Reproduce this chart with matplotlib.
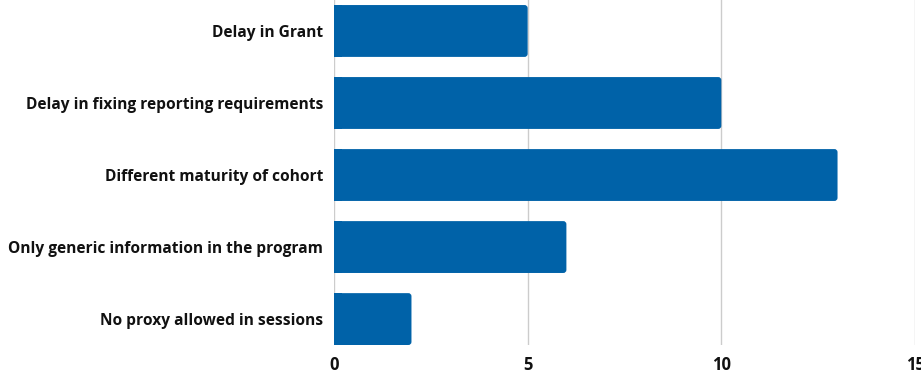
import matplotlib
matplotlib.use('Agg')
import matplotlib.pyplot as plt
from matplotlib.patches import FancyBboxPatch, Rectangle

# survey answers, top to bottom
issues = ['Delay in Grant',
          'Delay in fixing reporting requirements',
          'Different maturity of cohort',
          'Only generic information in the program',
          'No proxy allowed in sessions']
counts = [5, 10, 13, 6, 2]
xticks = [0, 5, 10, 15]

plt.rcParams['font.family'] = ['Open Sans', 'DejaVu Sans']

fig = plt.figure(figsize=(9.21, 3.74), dpi=100)
ax = fig.add_axes([334 / 921, 29 / 374, (915 - 334) / 921, 345 / 374])

pos = list(range(len(issues)))
h = 0.72
col = '#0062a8'
bars = ax.barh(pos, counts, height=h, color=col, zorder=3)
# round the right end of each bar, keep the left end square
for b in bars:
    x0, y0 = b.get_x(), b.get_y()
    w, hh = b.get_width(), b.get_height()
    b.set_visible(False)
    ax.add_patch(FancyBboxPatch((x0, y0), w, hh,
                                boxstyle='round,pad=0,rounding_size=0.08',
                                mutation_aspect=0.54, fc=col, ec='none', zorder=3))
    ax.add_patch(Rectangle((x0, y0), 0.2, hh, fc=col, ec='none', zorder=3,
                           antialiased=False))

ax.set_xlim(0, 15)
ax.set_ylim(4.36, -0.43)
ax.set_yticks(pos)
ax.set_yticklabels(issues, fontsize=11.2, fontweight='bold', color='#111111')
ax.set_xticks(xticks)
ax.set_xticklabels([str(t) for t in xticks], fontsize=12, fontweight='bold', color='#111111')
ax.tick_params(length=0)
ax.tick_params(axis='y', pad=8)
ax.tick_params(axis='x', pad=8)

ax.grid(axis='x', color='#cccccc', linewidth=1, zorder=0)
for s in ax.spines.values():
    s.set_visible(False)

fig.savefig('out.png', dpi=100)
